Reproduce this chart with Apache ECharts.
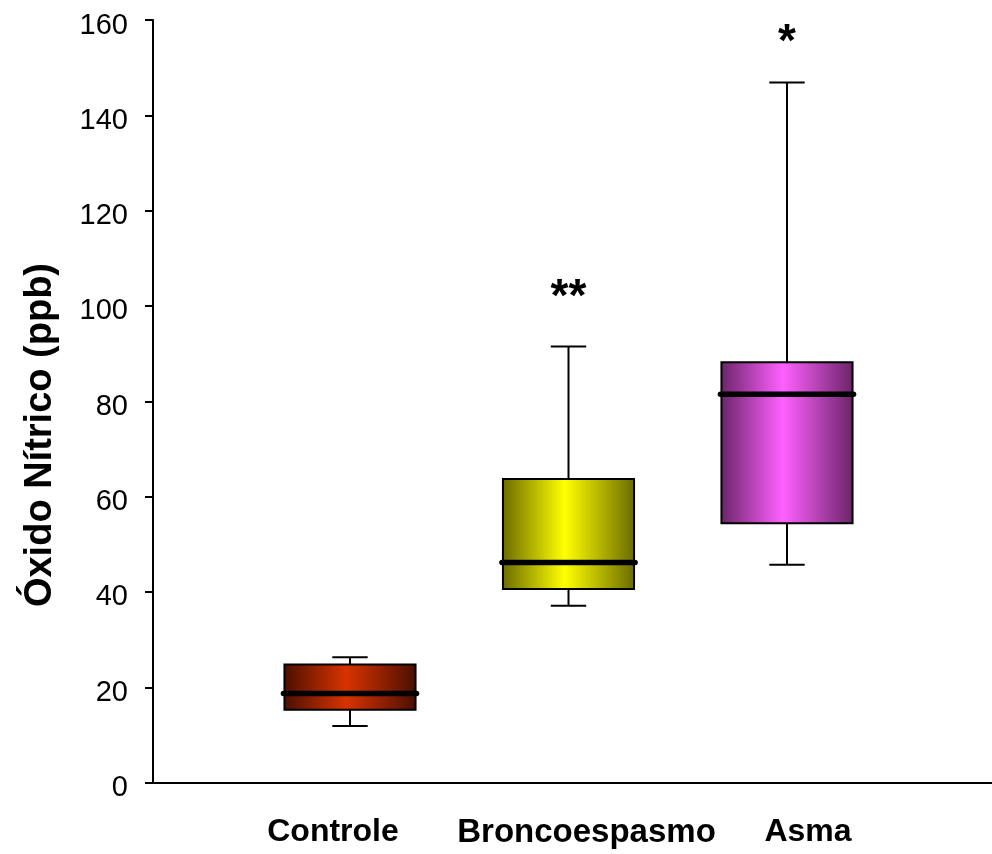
<!DOCTYPE html>
<html>
<head>
<meta charset="utf-8">
<script src="https://cdn.jsdelivr.net/npm/echarts@6/dist/echarts.min.js"></script>
<style>html,body{margin:0;padding:0;background:#fff}#chart{width:992px;height:854px}</style>
</head>
<body>
<div id="chart"></div>
<script>
// ---- data ----
const categories = ['Controle', 'Broncoespasmo', 'Asma'];
const whiskerLow  = [11.9, 37.1, 45.7];
const q1          = [15.3, 40.6, 54.4];
const median      = [18.7, 46.2, 81.5];
const q3          = [24.8, 63.7, 88.2];
const whiskerHigh = [26.3, 91.5, 146.9];
const annotCategory = [1, 2];
const annotValue    = [103.5, 157];
const annotText     = ['**', '*'];
const yTicks = [0, 20, 40, 60, 80, 100, 120, 140, 160];
const yTitle = 'Óxido Nítrico (ppb)';

// ---- styling ----
const FONT = '"Liberation Sans", Arial, Helvetica, sans-serif';
const boxColors = [
  ['#4a0f00', '#d83300'],
  ['#6a6a00', '#ffff00'],
  ['#6a2468', '#ff60ff']
];
const labelShift = [-17, 18, 21];
const labelSize = [32, 33, 32];

const boxData = categories.map((c, i) => [i, whiskerLow[i], q1[i], median[i], q3[i], whiskerHigh[i]]);
const annotData = annotCategory.map((c, i) => [c, annotValue[i], annotText[i]]);

const chart = echarts.init(document.getElementById('chart'), null, {renderer: 'canvas'});

const gridTop = 20, gridBottom = 71.4;
const band = 218.5;

const richStyles = {};
categories.forEach((c, i) => {
  const s = labelShift[i];
  richStyles['c' + i] = {
    fontFamily: FONT, fontWeight: 'bold', fontSize: labelSize[i], color: '#000',
    padding: s < 0 ? [0, -2 * s, 0, 0] : [0, 0, 0, 2 * s]
  };
});

const option = {
  animation: false,
  backgroundColor: '#fff',
  grid: [
    {left: 153, right: 0, top: gridTop, bottom: gridBottom},
    {left: 350 - band / 2, width: band * 3, top: gridTop, bottom: gridBottom}
  ],
  xAxis: [
    {
      type: 'value', gridIndex: 0, min: 0, max: 1,
      axisLine: {show: true, onZero: false, lineStyle: {color: '#000', width: 2}},
      axisTick: {show: false}, axisLabel: {show: false}, splitLine: {show: false}
    },
    {
      type: 'category', gridIndex: 1, data: categories,
      axisLine: {show: false}, axisTick: {show: false}, splitLine: {show: false},
      axisLabel: {
        margin: 34,
        interval: 0,
        formatter: (v, idx) => '{c' + idx + '|' + v + '}',
        rich: richStyles
      }
    }
  ],
  yAxis: [
    {
      type: 'value', gridIndex: 0, min: 0, max: 160, interval: 20,
      axisLine: {show: true, lineStyle: {color: '#000', width: 2}},
      axisTick: {show: true, inside: false, length: 8, lineStyle: {color: '#000', width: 2}},
      axisLabel: {
        margin: 25,
        formatter: v => (yTicks.indexOf(v) >= 0 ? '{t|' + v + '}' : ''),
        rich: {
          t: {color: '#000', fontSize: 29, fontFamily: FONT, padding: [11, 0, 0, 0]}
        }
      },
      splitLine: {show: false}
    },
    {
      type: 'value', gridIndex: 1, min: 0, max: 160, interval: 20, show: false
    }
  ],
  graphic: [{
    type: 'text',
    left: 22, top: 263,
    rotation: Math.PI / 2,
    style: {
      text: yTitle, font: 'bold 38px ' + FONT, fill: '#000'
    }
  }],
  series: [
    {
      type: 'custom',
      xAxisIndex: 1, yAxisIndex: 1,
      data: boxData,
      encode: {x: 0, y: [1, 2, 3, 4, 5]},
      renderItem: function (params, api) {
        const idx = api.value(0);
        const cx = api.coord([idx, 0])[0];
        const bw = api.size([1, 0])[0];
        const boxW = bw * 0.6;
        const capW = bw * 0.162;
        const yLo = api.coord([idx, api.value(1)])[1];
        const yQ1 = api.coord([idx, api.value(2)])[1];
        const yMed = api.coord([idx, api.value(3)])[1];
        const yQ3 = api.coord([idx, api.value(4)])[1];
        const yHi = api.coord([idx, api.value(5)])[1];
        const col = boxColors[idx];
        const lineStyle = {stroke: '#000', lineWidth: 2};
        return {
          type: 'group',
          children: [
            {type: 'line', shape: {x1: cx, y1: yQ3, x2: cx, y2: yHi}, style: lineStyle},
            {type: 'line', shape: {x1: cx - capW / 2, y1: yHi, x2: cx + capW / 2, y2: yHi}, style: lineStyle},
            {type: 'line', shape: {x1: cx, y1: yQ1, x2: cx, y2: yLo}, style: lineStyle},
            {type: 'line', shape: {x1: cx - capW / 2, y1: yLo, x2: cx + capW / 2, y2: yLo}, style: lineStyle},
            {
              type: 'rect',
              shape: {x: cx - boxW / 2, y: yQ3, width: boxW, height: yQ1 - yQ3},
              style: {
                fill: new echarts.graphic.LinearGradient(0, 0, 1, 0, [
                  {offset: 0, color: col[0]},
                  {offset: 0.47, color: col[1]},
                  {offset: 1, color: col[0]}
                ]),
                stroke: '#000', lineWidth: 2
              }
            },
            {
              type: 'line',
              shape: {x1: cx - boxW / 2 - 1, y1: yMed, x2: cx + boxW / 2 + 1, y2: yMed},
              style: {stroke: '#000', lineWidth: 5.5, lineCap: 'round'}
            }
          ]
        };
      }
    },
    {
      type: 'custom',
      xAxisIndex: 1, yAxisIndex: 1,
      data: annotData,
      encode: {x: 0, y: 1},
      renderItem: function (params, api) {
        const p = api.coord([api.value(0), api.value(1)]);
        return {
          type: 'text',
          x: p[0], y: p[1] + 9,
          style: {
            text: annotData[params.dataIndex][2],
            font: 'bold 46px ' + FONT,
            fill: '#000',
            textAlign: 'center',
            textVerticalAlign: 'middle'
          }
        };
      }
    }
  ]
};
chart.setOption(option);
</script>
</body>
</html>
